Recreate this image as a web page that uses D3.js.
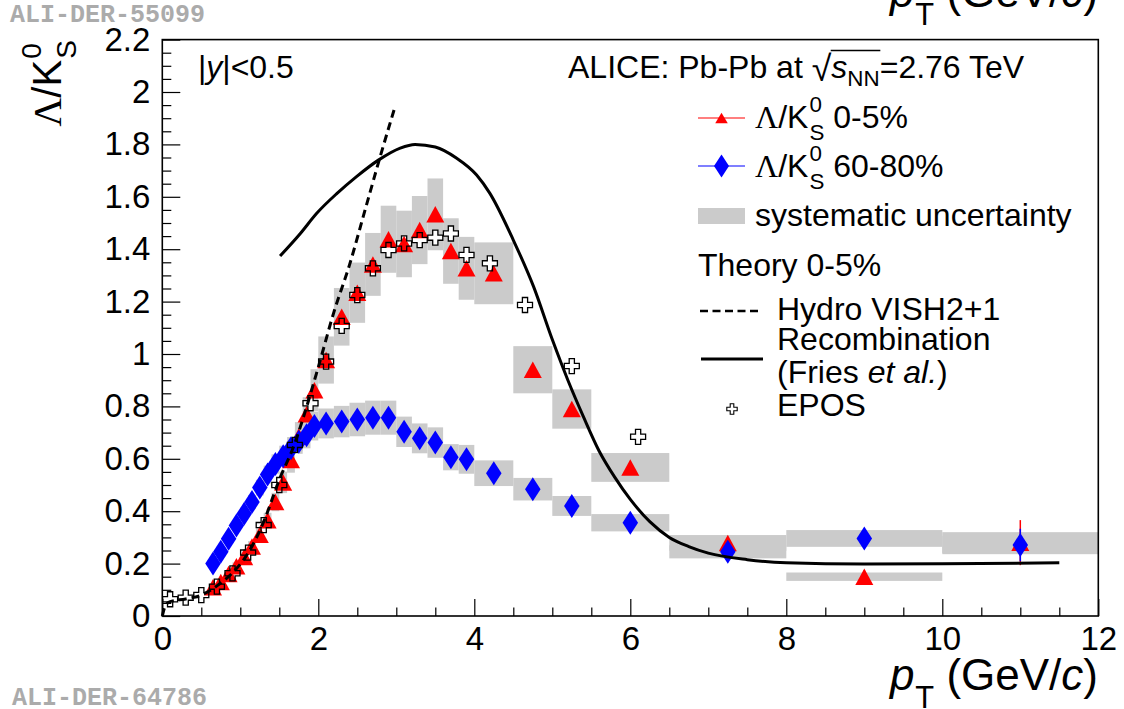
<!DOCTYPE html>
<html>
<head>
<meta charset="utf-8">
<script src="https://cdn.jsdelivr.net/npm/d3@7"></script>
<style>
  html, body { margin: 0; padding: 0; background: #fff; }
  svg text { white-space: pre; }
</style>
</head>
<body>
<svg id="chart" width="1124" height="709"></svg>
<script>
// ---- data: Lambda/K0S ratio vs pT, Pb-Pb 2.76 TeV ----
const binEdges = [0.6,0.7,0.8,0.9,1.0,1.1,1.2,1.3,1.4,1.5,1.6,1.7,1.8,1.9,2.0,
                  2.2,2.4,2.6,2.8,3.0,3.2,3.4,3.6,3.8,4.0,4.5,5.0,5.5,6.5,8.0,10.0,12.0];
const ptCenters = [0.65,0.75,0.85,0.95,1.05,1.15,1.25,1.35,1.45,1.55,1.65,1.75,1.85,1.95,
                   2.1,2.3,2.5,2.7,2.9,3.1,3.3,3.5,3.7,3.9,4.25,4.75,5.25,6.0,7.25,9.0,11.0];

// 0-5% central
const central = [0.110,0.130,0.160,0.190,0.225,0.265,0.310,0.365,0.435,0.510,0.595,0.685,0.770,0.862,
                 0.977,1.142,1.234,1.342,1.438,1.420,1.473,1.533,1.393,1.327,1.308,0.940,0.790,0.567,0.279,0.150,0.280];
const centralSys = [0.009,0.010,0.012,0.015,0.018,0.021,0.025,0.029,0.035,0.041,0.048,0.055,0.065,0.080,
                    0.090,0.110,0.115,0.120,0.128,0.127,0.130,0.137,0.125,0.120,0.118,0.090,0.075,0.055,0.030,0.016,0.040];
const centralStat = [0.002,0.002,0.002,0.002,0.002,0.003,0.003,0.003,0.004,0.004,0.005,0.005,0.006,0.006,
                     0.005,0.006,0.007,0.008,0.009,0.010,0.011,0.012,0.012,0.013,0.010,0.012,0.015,0.015,0.015,0.025,0.086];

// 60-80% peripheral
const peripheral = [0.200,0.245,0.295,0.345,0.390,0.435,0.490,0.540,0.580,0.610,0.640,0.665,0.690,0.725,
                    0.735,0.742,0.750,0.757,0.757,0.703,0.678,0.662,0.606,0.598,0.545,0.484,0.420,0.356,0.245,0.296,0.271];
const peripheralSys = [0.012,0.015,0.018,0.021,0.024,0.027,0.030,0.034,0.037,0.040,0.043,0.046,0.050,0.055,
                       0.057,0.060,0.064,0.065,0.065,0.058,0.057,0.058,0.050,0.055,0.049,0.043,0.038,0.033,0.025,0.032,0.035];
const peripheralStat = [0.003,0.003,0.003,0.003,0.003,0.004,0.004,0.004,0.005,0.005,0.005,0.006,0.006,0.007,
                        0.006,0.007,0.008,0.009,0.010,0.011,0.012,0.013,0.014,0.015,0.012,0.014,0.016,0.015,0.020,0.035,0.062];

// EPOS
const eposPt  = [0.1,0.3,0.5,0.7,0.9,1.1,1.3,1.5,1.7,1.9,2.1,2.3,2.5,2.7,2.9,3.1,3.3,3.5,3.7,3.9,4.2,4.65,5.25,6.1];
const eposVal = [0.064,0.070,0.080,0.112,0.163,0.242,0.347,0.500,0.653,0.812,0.971,1.107,1.225,1.327,1.397,
                 1.422,1.435,1.444,1.460,1.378,1.346,1.187,0.954,0.684];

// Hydro VISH2+1
const hydroPt  = [0.0,0.04,0.1,0.3,0.5,0.7,0.9,1.1,1.3,1.5,1.7,1.8,2.0,2.2,2.4,2.6,2.8,2.98];
const hydroVal = [0.0,0.040,0.055,0.065,0.080,0.115,0.165,0.240,0.360,0.520,0.660,0.750,0.950,1.160,1.340,1.550,1.760,1.940];

// Recombination (Fries et al.)
const recoPt  = [1.51,1.77,1.98,2.24,2.49,2.77,3.05,3.24,3.5,3.77,4.03,4.2,4.5,4.76,5.0,5.2,5.4,5.6,5.8,6.0,
                 6.25,6.5,6.75,7.0,7.5,8.0,9.0,10.0,11.5];
const recoVal = [1.374,1.460,1.537,1.613,1.677,1.740,1.786,1.800,1.790,1.748,1.683,1.613,1.435,1.257,1.055,0.900,
                 0.760,0.630,0.530,0.445,0.360,0.300,0.265,0.240,0.215,0.203,0.198,0.199,0.203];

// axis ticks
const xTicks = [0,2,4,6,8,10,12];
const xTickLabels = ["0","2","4","6","8","10","12"];
const yTicks = [0,0.2,0.4,0.6,0.8,1.0,1.2,1.4,1.6,1.8,2.0,2.2];
const yTickLabels = ["0","0.2","0.4","0.6","0.8","1","1.2","1.4","1.6","1.8","2","2.2"];

// ---- drawing ----
const SANS = "'Liberation Sans', Arial, Helvetica, sans-serif";
const SERIF = "'Liberation Serif', 'Times New Roman', serif";
const svg = d3.select("#chart");
const x = d3.scaleLinear().domain([0, 12]).range([162.3, 1098.3]);
const y = d3.scaleLinear().domain([0, 2.2]).range([616, 39.6]);

// text with sub/superscripts laid out piece by piece
function rich(parent, px, py, segs, opt) {
  const outer = parent.append("g").attr("transform", `translate(${px},${py})` + (opt.rotate ? ` rotate(${opt.rotate})` : ""));
  const g = outer.append("g");
  const base = opt.size;
  let cx = 0, lastStart = 0;
  const over = [];
  segs.forEach(s => {
    const size = base * (s.scale || 1);
    const t = g.append("text")
      .attr("y", -(s.shift || 0) * base)
      .style("font-size", size + "px")
      .style("font-family", s.serif ? SERIF : SANS)
      .style("font-style", s.italic ? "italic" : "normal")
      .attr("fill", opt.fill || "#000")
      .text(s.t);
    const start = (s.stack ? lastStart : cx) + (s.dx || 0) * base;
    t.attr("x", start);
    const w = t.node().getComputedTextLength();
    if (s.stack) cx = Math.max(cx, start + w);
    else { lastStart = start; cx = start + w; }
    if (s.overline) over.push([start, start + w]);
  });
  if (over.length) {
    g.append("line")
      .attr("x1", over[0][0] - base * 0.02).attr("x2", over[over.length - 1][1] + base * 0.02)
      .attr("y1", -base * 0.86).attr("y2", -base * 0.86)
      .attr("stroke", "#000").attr("stroke-width", 1.3);
  }
  let off = 0;
  if (opt.anchor === "end") off = -cx;
  else if (opt.anchor === "middle") off = -cx / 2;
  g.attr("transform", `translate(${off},0)`);
  return outer;
}

// marker shapes
const triPath = (w, h) => `M0,${-h/2}L${w/2},${h/2}L${-w/2},${h/2}Z`;
const diaPath = (w, h) => `M0,${-h/2}L${w/2},0L0,${h/2}L${-w/2},0Z`;
const crossPath = (s, a) => `M${-a},${-s}H${a}V${-a}H${s}V${a}H${a}V${s}H${-a}V${a}H${-s}V${-a}H${-a}Z`;

const plot = svg.append("g");

// systematic boxes
function sysBoxes(vals, sys) {
  plot.append("g").selectAll("rect").data(vals).join("rect")
    .attr("x", (d, i) => x(binEdges[i]))
    .attr("width", (d, i) => x(binEdges[i + 1]) - x(binEdges[i]))
    .attr("y", (d, i) => y(d + sys[i]))
    .attr("height", (d, i) => y(d - sys[i]) - y(d + sys[i]))
    .attr("fill", "#cbcbcb");
}
sysBoxes(central, centralSys);
sysBoxes(peripheral, peripheralSys);

// EPOS fill layer (hidden under the data markers)
plot.append("g").selectAll("path").data(eposVal).join("path")
  .attr("transform", (d, i) => `translate(${x(eposPt[i])},${y(d)})`)
  .attr("d", crossPath(7.5, 2.6)).attr("fill", "#fff");

function statBars(vals, stat, color) {
  plot.append("g").selectAll("line").data(vals).join("line")
    .attr("x1", (d, i) => x(ptCenters[i])).attr("x2", (d, i) => x(ptCenters[i]))
    .attr("y1", (d, i) => y(d + stat[i])).attr("y2", (d, i) => y(d - stat[i]))
    .attr("stroke", color).attr("stroke-width", 1.5);
}
statBars(central, centralStat, "#ff0000");
plot.append("g").selectAll("path").data(central).join("path")
  .attr("transform", (d, i) => `translate(${x(ptCenters[i])},${y(d)})`)
  .attr("d", triPath(18, 16.5)).attr("fill", "#ff0000");

statBars(peripheral, peripheralStat, "#0000ff");
plot.append("g").selectAll("path").data(peripheral).join("path")
  .attr("transform", (d, i) => `translate(${x(ptCenters[i])},${y(d)})`)
  .attr("d", diaPath(15.5, 24)).attr("fill", "#0000ff");

// theory curves
const hydroLine = d3.line().x((d, i) => x(hydroPt[i])).y(d => y(d)).curve(d3.curveMonotoneX);
plot.append("path").datum(hydroVal).attr("d", hydroLine)
  .attr("fill", "none").attr("stroke", "#000").attr("stroke-width", 3).attr("stroke-dasharray", "8,5");
const recoLine = d3.line().x((d, i) => x(recoPt[i])).y(d => y(d)).curve(d3.curveMonotoneX);
plot.append("path").datum(recoVal).attr("d", recoLine)
  .attr("fill", "none").attr("stroke", "#000").attr("stroke-width", 3);

// EPOS outlines
plot.append("g").selectAll("path").data(eposVal).join("path")
  .attr("transform", (d, i) => `translate(${x(eposPt[i])},${y(d)})`)
  .attr("d", crossPath(7.5, 2.6)).attr("fill", "none").attr("stroke", "#000").attr("stroke-width", 1.3);

// axes with inward ticks
const xMinor = d3.range(0, 24.5).map(i => i * 0.5).filter(v => !xTicks.includes(v));
svg.append("g").attr("transform", "translate(0,616)")
  .call(d3.axisBottom(x).tickValues(xMinor).tickSize(-8.5).tickFormat(""))
  .call(g => g.select(".domain").remove());
svg.append("g").attr("transform", "translate(0,616)")
  .call(d3.axisBottom(x).tickValues(xTicks).tickSize(-17).tickPadding(11).tickFormat((d, i) => xTickLabels[i]))
  .call(g => g.select(".domain").remove())
  .call(g => g.selectAll("text").style("font-size", "33px").style("font-family", SANS).attr("fill", "#000"));

const yMinor = d3.range(0, 45).map(i => i * 0.05).filter(v => !yTicks.some(t => Math.abs(t - v) < 1e-6));
svg.append("g").attr("transform", "translate(162.3,0)")
  .call(d3.axisLeft(y).tickValues(yMinor).tickSize(-9).tickFormat(""))
  .call(g => g.select(".domain").remove());
svg.append("g").attr("transform", "translate(162.3,0)")
  .call(d3.axisLeft(y).tickValues(yTicks).tickSize(-18).tickPadding(12).tickFormat((d, i) => yTickLabels[i]))
  .call(g => g.select(".domain").remove())
  .call(g => g.selectAll("text").style("font-size", "33px").style("font-family", SANS).attr("fill", "#000"));
svg.selectAll(".tick line").attr("stroke", "#000").attr("stroke-width", 1.2);

// frame
svg.append("rect").attr("x", x(0)).attr("y", y(2.2)).attr("width", x(12) - x(0)).attr("height", y(0) - y(2.2))
  .attr("fill", "none").attr("stroke", "#000").attr("stroke-width", 1.6);

// axis titles
const xTitle = [
  { t: "p", italic: true },
  { t: "T", scale: 0.7, shift: -0.42, dx: 0.02 },
  { t: " (GeV/" },
  { t: "c", italic: true },
  { t: ")" }
];
rich(svg, 1098, 690, xTitle, { size: 44, anchor: "end" });
rich(svg, 1098, 7, xTitle, { size: 44, anchor: "end" });
rich(svg, 61, 40, [
  { t: "Λ", serif: true },
  { t: "/K" },
  { t: "0", scale: 0.7, shift: 0.5, dx: 0.03 },
  { t: "S", scale: 0.7, shift: -0.38, stack: true }
], { size: 40, anchor: "end", rotate: -90 });

// watermarks
const wm = svg.append("g").style("font-family", "'Liberation Mono', 'Courier New', monospace")
  .style("font-weight", "bold").style("font-size", "25px").attr("fill", "#ababab");
wm.append("text").attr("x", 10).attr("y", 22).text("ALI-DER-55099");
wm.append("text").attr("x", 12).attr("y", 705).text("ALI-DER-64786");

// labels inside the frame
rich(svg, 198, 78, [
  { t: "|" }, { t: "y", italic: true }, { t: "|<0.5" }
], { size: 32 });

rich(svg, 568, 78, [
  { t: "ALICE: Pb-Pb at " },
  { t: "√", scale: 1.12, shift: -0.08 },
  { t: "s", italic: true, overline: true },
  { t: "NN", scale: 0.7, shift: -0.25, overline: true },
  { t: "=2.76 TeV" }
], { size: 32 });

// legend
const leg = svg.append("g");
leg.append("line").attr("x1", 698).attr("x2", 745).attr("y1", 118).attr("y2", 118).attr("stroke", "#ff0000").attr("stroke-width", 1.2);
leg.append("path").attr("transform", "translate(721.5,118)").attr("d", triPath(12.5, 10.5)).attr("fill", "#ff0000");
rich(svg, 755, 128, [
  { t: "Λ", serif: true }, { t: "/K" },
  { t: "0", scale: 0.7, shift: 0.5, dx: 0.03 },
  { t: "S", scale: 0.7, shift: -0.38, stack: true },
  { t: " 0-5%" }
], { size: 32 });

leg.append("line").attr("x1", 698).attr("x2", 745).attr("y1", 166).attr("y2", 166).attr("stroke", "#0000ff").attr("stroke-width", 1.2);
leg.append("path").attr("transform", "translate(721.5,166)").attr("d", diaPath(15, 23)).attr("fill", "#0000ff");
rich(svg, 755, 177, [
  { t: "Λ", serif: true }, { t: "/K" },
  { t: "0", scale: 0.7, shift: 0.5, dx: 0.03 },
  { t: "S", scale: 0.7, shift: -0.38, stack: true },
  { t: " 60-80%" }
], { size: 32 });

leg.append("rect").attr("x", 698).attr("y", 208).attr("width", 47).attr("height", 16).attr("fill", "#cbcbcb");
rich(svg, 755, 226, [{ t: "systematic uncertainty" }], { size: 32 });

rich(svg, 698, 276, [{ t: "Theory 0-5%" }], { size: 32 });

leg.append("line").attr("x1", 700).attr("x2", 758).attr("y1", 311).attr("y2", 311)
  .attr("stroke", "#000").attr("stroke-width", 2.5).attr("stroke-dasharray", "8,4.5");
rich(svg, 777, 320, [{ t: "Hydro VISH2+1" }], { size: 32 });

leg.append("line").attr("x1", 701).attr("x2", 763).attr("y1", 359).attr("y2", 359)
  .attr("stroke", "#000").attr("stroke-width", 3);
rich(svg, 777, 350, [{ t: "Recombination" }], { size: 32 });
rich(svg, 777, 383, [{ t: "(Fries " }, { t: "et al.", italic: true }, { t: ")" }], { size: 32 });

leg.append("path").attr("transform", "translate(732,409)").attr("d", crossPath(5.2, 1.8))
  .attr("fill", "#fff").attr("stroke", "#000").attr("stroke-width", 1.1);
rich(svg, 777, 416, [{ t: "EPOS" }], { size: 32 });
</script>
</body>
</html>
